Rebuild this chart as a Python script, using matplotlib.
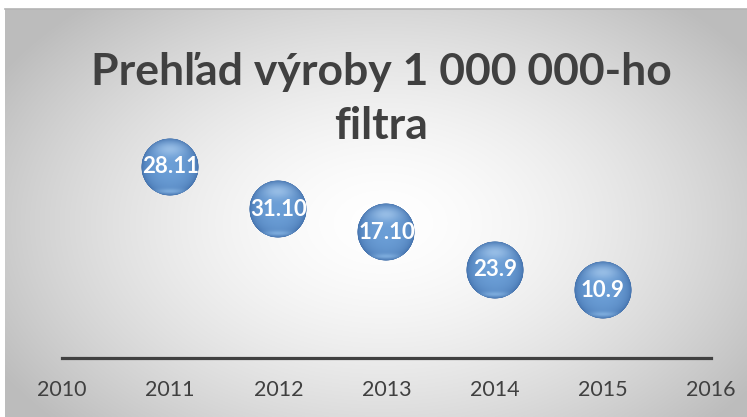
import numpy as np
import matplotlib
matplotlib.use("Agg")
import matplotlib.pyplot as plt
from matplotlib.offsetbox import OffsetImage, AnnotationBbox

# ---- data ----
years = [2011, 2012, 2013, 2014, 2015]
day_of_year = [332, 305, 290, 266, 253]
labels = ["28.11", "31.10", "17.10", "23.9", "10.9"]
x_ticks = [2010, 2011, 2012, 2013, 2014, 2015, 2016]
title_lines = ["Prehľad výroby 1 000 000-ho", "filtra"]

W, H, DPI = 747, 417, 100
fig = plt.figure(figsize=(W / DPI, H / DPI), dpi=DPI)
fig.patch.set_facecolor("white")

# ---- background: radial gradient panel ----
bg = fig.add_axes([5 / W, 0, (W - 5) / W, (H - 9) / H], zorder=0)
gx = np.linspace(-1, 1, 400)
gy = np.linspace(-1, 1, 240)
GX, GY = np.meshgrid(gx, gy)
cx, cy = 0.02, 0.05
d = np.sqrt(((GX - cx) / 1.0) ** 2 + ((GY - cy) / 1.2) ** 2)
d = np.clip(d / 1.2, 0, 1)
t = d ** 1.6
c0 = np.array([1.0, 1.0, 1.0])
c1 = np.array([0.74, 0.74, 0.74])
img = c0[None, None, :] * (1 - t[..., None]) + c1[None, None, :] * t[..., None]
bg.imshow(img, aspect="auto", extent=[0, 1, 0, 1], interpolation="bilinear")
bg.plot([0, 1], [1, 1], color="#b4b4b4", lw=1.2, transform=bg.transAxes, clip_on=False)
bg.set_xlim(0, 1)
bg.set_ylim(0, 1)
bg.axis("off")

# ---- main axes ----
ax_left, ax_right = 62, 711
ax_bottom_px, ax_top_px = 358, 20
ax = fig.add_axes([ax_left / W, 1 - ax_bottom_px / H, (ax_right - ax_left) / W,
                   (ax_bottom_px - ax_top_px) / H], zorder=2)
ax.patch.set_alpha(0)
ax.set_xlim(2010, 2016)
ppd = 1.557  # pixels per day
ymin = 332 - (ax_bottom_px - 167) / ppd
ymax = 332 + (167 - ax_top_px) / ppd
ax.set_ylim(ymin, ymax)
for s in ["top", "right", "left"]:
    ax.spines[s].set_visible(False)
ax.spines["bottom"].set_color("#404040")
ax.spines["bottom"].set_linewidth(2.3)
ax.set_yticks([])
ax.set_xticks(x_ticks)
ax.set_xticklabels([str(v) for v in x_ticks])
ax.tick_params(axis="x", length=0, pad=16, labelsize=15.5, labelcolor="#404040")
for lab in ax.get_xticklabels():
    lab.set_family("Lato")

# ---- sphere image ----
N = 200
u = np.linspace(-1, 1, N)
U, V = np.meshgrid(u, u)
R2 = U ** 2 + V ** 2
R = np.sqrt(R2)
Z = np.sqrt(np.clip(1 - R2, 0, 1))
dark = np.array([0.16, 0.33, 0.57])
mid = np.array([0.42, 0.62, 0.84])
light = np.array([0.72, 0.84, 0.96])
s = Z ** 0.55
col = dark[None, None, :] * (1 - s[..., None]) + mid[None, None, :] * s[..., None]
hl = np.exp(-((U / 0.55) ** 2 + ((V + 0.62) / 0.26) ** 2)) * 0.6
col = col * (1 - hl[..., None]) + light[None, None, :] * hl[..., None]
rim = np.exp(-((U / 0.5) ** 2 + ((V - 0.84) / 0.09) ** 2)) * 0.5
col = col * (1 - rim[..., None]) + np.array([0.62, 0.80, 0.96])[None, None, :] * rim[..., None]
alpha = np.clip((1 - R) * N / 2 / 1.5, 0, 1)
sphere = np.dstack([col, alpha])

diam_px = 58
for xv, yv, lab in zip(years, day_of_year, labels):
    oi = OffsetImage(sphere, zoom=diam_px / N, dpi_cor=False, interpolation="antialiased")
    ab = AnnotationBbox(oi, (xv, yv), frameon=False, pad=0, zorder=3)
    ax.add_artist(ab)
    ax.text(xv, yv, lab, ha="center", va="center", color="white", fontsize=16,
            fontweight="bold", family="Lato", zorder=4)

# ---- title ----
fig.text(381 / W, 1 - 85 / H, title_lines[0], ha="center", va="baseline",
         fontsize=32, fontweight="bold", color="#404040", family="Lato", zorder=5)
fig.text(381 / W, 1 - 139 / H, title_lines[1], ha="center", va="baseline",
         fontsize=32, fontweight="bold", color="#404040", family="Lato", zorder=5)

fig.savefig("out.png", dpi=DPI)
